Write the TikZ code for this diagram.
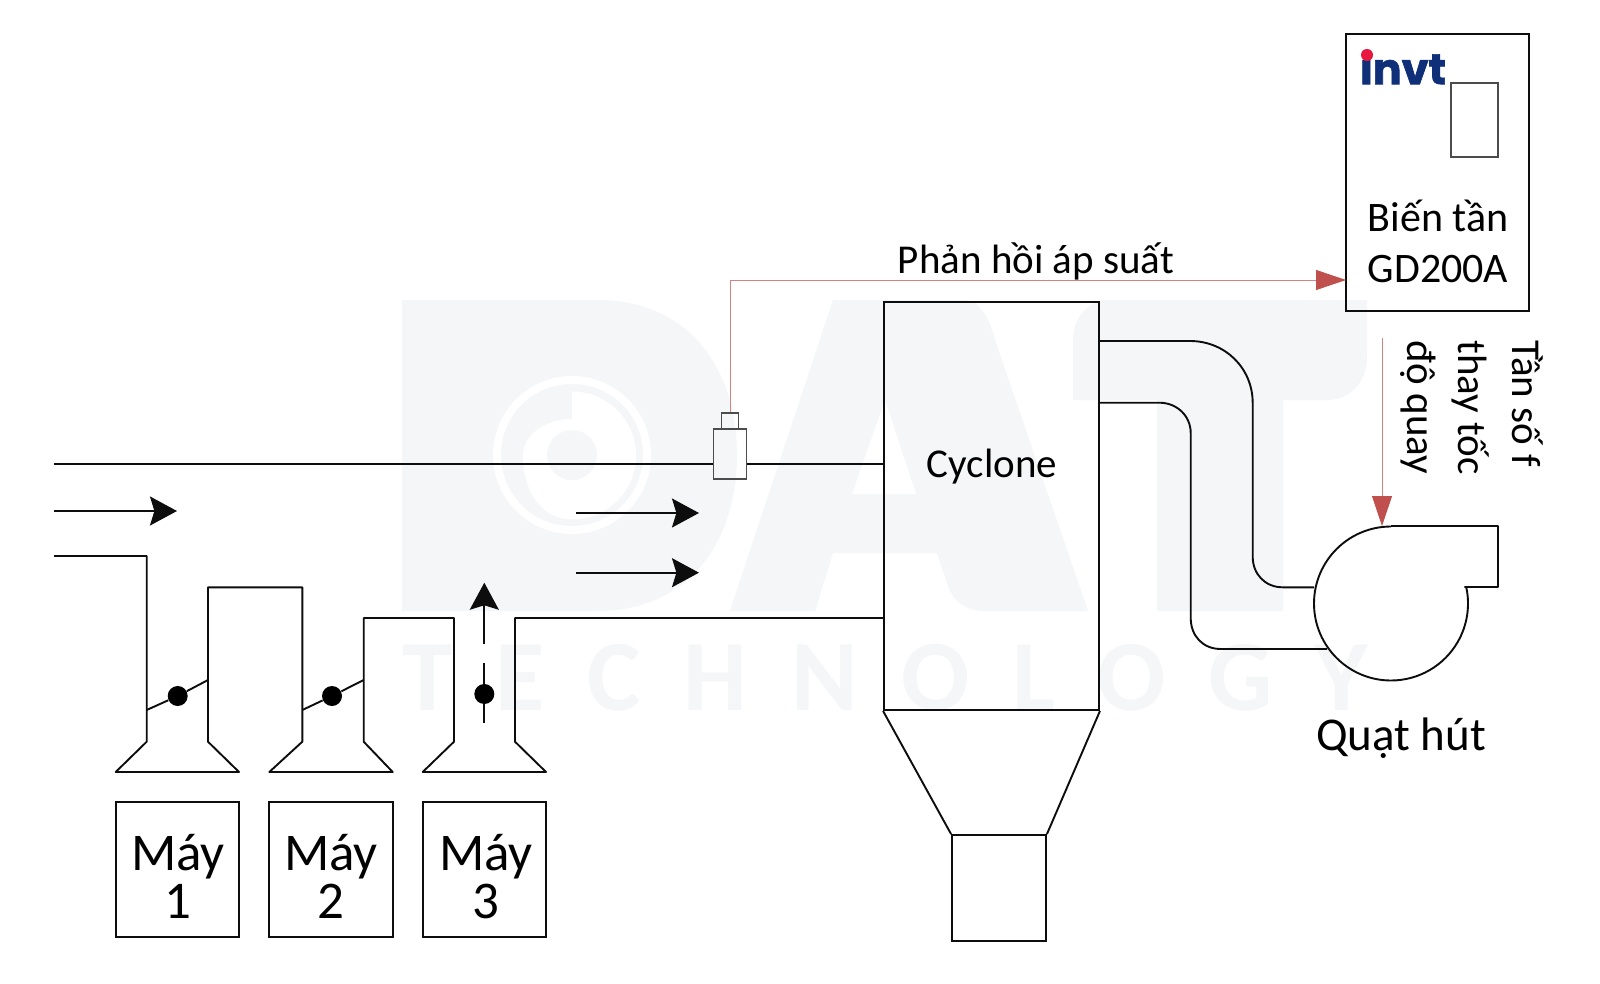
\documentclass[tikz,border=0pt]{standalone}
\usepackage{xcolor}
\usepackage{fontspec}
\usepackage{tikz}
\usetikzlibrary{arrows.meta}
\setmainfont{Carlito}
\newfontfamily\logofont[FakeBold=1.6]{Poppins}
\newfontfamily\markfont[LetterSpace=43]{Carlito}
\definecolor{markgray}{HTML}{F5F6F7}
\definecolor{feedred}{HTML}{C0504D}
\definecolor{logoblue}{HTML}{0F2F78}
\definecolor{logored}{HTML}{E8173F}
\tikzset{
    pipe/.style={draw=black!95, line width=0.95pt, line join=round},
    flow/.style={pipe, -{Stealth[length=13.5pt, width=14.5pt, inset=2.2pt]}},
    feedback/.style={draw=feedred!70, line width=0.4pt, -{Triangle[length=15pt, width=10pt, color=feedred, fill=feedred]}},
    valve/.style={circle, fill=black, minimum size=10pt, inner sep=0pt},
    framebox/.style={draw=black!95, line width=0.95pt, inner sep=0pt},
    machinebox/.style={framebox, minimum width=61.75pt, minimum height=67.5pt},
    machinetext/.style={align=center, inner sep=0pt, font=\fontsize{26.5}{24}\selectfont},
    smallbox/.style={draw=black!70, line width=0.6pt, inner sep=0pt},
    caption/.style={align=center, inner sep=0pt, font=\fontsize{20.5}{25.5}\selectfont}
}

\begin{document}
\begin{tikzpicture}[x=0.5pt, y=0.5pt, yscale=-1, node distance=76.75pt]
    \fill[white] (0,0) rectangle (1600,984);

    % Background mark
    \fill[markgray] (402,300) -- (597,300) .. controls (690,300) and (737,370) .. (737,455) .. controls (737,540) and (690,611) .. (597,611) -- (402,611) -- cycle;
    \fill[white] (572,455) circle[radius=79];
    \fill[markgray] (572,455) circle[radius=71];
    \fill[white] (572,391.5) arc[start angle=-90, end angle=90, radius=64] .. controls (540,519) and (523,490) .. (523,455) .. controls (523,435) and (545,419) .. (572,419) -- cycle;
    \fill[markgray] (572,455) circle[radius=25];
    \fill[markgray] (730,611) -- (833,300) -- (965,300) .. controls (980,300) and (990,320) .. (995,340) -- (1088,611) -- (985,611) .. controls (965,611) and (952,600) .. (947,583) -- (937,553) -- (833,553) -- (815,611) -- cycle;
    \fill[white] (852,494) -- (885,400) -- (916,494) -- cycle;
    \fill[markgray] (1073,400) -- (1073,340) .. controls (1073,318) and (1088,300) .. (1110,300) -- (1367,300) -- (1367,357) .. controls (1367,382) and (1350,400) .. (1327,400) -- (1283,400) -- (1283,611) -- (1157,611) -- (1157,400) -- cycle;
    \node[anchor=base west, inner sep=0pt, text=markgray, font=\markfont\bfseries\fontsize{50.5}{50}\selectfont] (marktext) at (402,710) {TECHNOLOGY};

    % Define nodes
    \node[machinebox] (may1) at (177.5,869.5) {};
    \node[machinebox, right of=may1] (may2) {};
    \node[machinebox, right of=may2] (may3) {};
    \node[machinetext] (maytext1) at (178,876.5) {Máy\\1};
    \node[machinetext] (maytext2) at (331,876.5) {Máy\\2};
    \node[machinetext] (maytext3) at (486,876.5) {Máy\\3};
    \node[framebox, minimum width=107.5pt, minimum height=204pt] (cyclone) at (991.5,506) {};
    \node[caption] (cyclonetext) at (992,467) {Cyclone};
    \node[framebox, minimum width=47pt, minimum height=53pt] (hopper) at (999,888) {};
    \node[framebox, minimum width=91.5pt, minimum height=138.5pt] (inverter) at (1437.5,172.5) {};
    \node[smallbox, minimum width=23.5pt, minimum height=37pt] (display) at (1474.5,120) {};
    \node[caption, font=\fontsize{21}{25.5}\selectfont] (invertertext) at (1438,241) {Biến tần\\GD200A};
    \node[inner sep=0pt, text=logoblue, font=\logofont\bfseries\fontsize{21.5}{21.5}\selectfont] (logo) at (1403,67) {invt};
    \fill[logored] (1367,55) circle[radius=6];
    \node[smallbox, minimum width=16.5pt, minimum height=25pt] (sensor) at (730,454) {};
    \node[smallbox, minimum width=8.5pt, minimum height=8pt] (sensorcap) at (730,421) {};
    \node[caption] (feedtext) at (1036,261) {Phản hồi áp suất};
    \node[caption, rotate=-90, align=left, anchor=north west] (speedtext) at (1544,340) {Tần số f\\[1.5pt]thay tốc\\độ quay};
    \node[caption, font=\fontsize{23.5}{25.5}\selectfont] (fantext) at (1401,738) {Quạt hút};
    \node[valve] (valve1) at (177.7,696) {};
    \node[valve] (valve2) at (332,696) {};
    \node[valve] (valve3) at (484.3,694) {};
    \coordinate (inverterin) at (1346,280);
    \coordinate (speedout) at (1382,338);
    \coordinate (fantop) at (1382,526);

    % Define connections
    \draw[pipe] (54,464) -- (sensor.west |- 54,464);
    \draw[pipe] (sensor.east |- 54,464) -- (cyclone.west |- 54,464);
    \draw[pipe] (54,556) -- (146.7,556) -- (146.7,741.7) -- (115.7,772) -- (239,772) -- (208,741.7) -- (208,587.3) -- (302.3,587.3) -- (302.3,741.7) -- (269.3,772) -- (392.7,772) -- (363.7,741.7) -- (363.7,618) -- (454,618) -- (454,741.7) -- (422.7,772) -- (546,772) -- (515,741.7) -- (515,618) -- (cyclone.west |- 515,618);
    \draw[pipe] (146.7,710) -- (valve1) -- (208,680);
    \draw[pipe] (302.3,710) -- (valve2) -- (363.7,680);
    \draw[pipe] (484.3,723) -- (valve3) -- (484.3,663);
    \draw[flow] (484.3,644) -- (484.3,582.7);
    \draw[flow] (54,511) -- (177,511);
    \draw[flow] (576,513) -- (699,513);
    \draw[flow] (576,572.7) -- (699,572.7);
    \draw[pipe] (cyclone.south west) -- (hopper.north west);
    \draw[pipe] (cyclone.south east) -- (hopper.north east);
    \draw[pipe] (cyclone.east |- 0,341) -- (1190,341) .. controls (1225,341) and (1252.7,368) .. (1252.7,403) -- (1252.7,556.7) .. controls (1252.7,574) and (1265,587.3) .. (1282.7,587.3) -- (1314,587.3);
    \draw[pipe] (cyclone.east |- 0,402.7) -- (1159.3,402.7) .. controls (1177,402.7) and (1190.7,416) .. (1190.7,433) -- (1190.7,618) .. controls (1190.7,636) and (1203,649) .. (1220.7,649) -- (1327,649);
    \draw[pipe] (1391,526.5) arc[start angle=-90, end angle=-372, radius=77] -- (1465,587) -- (1498,587) -- (1498,526) -- (1391,526);
    \draw[feedback] (sensorcap.north) |- (inverterin);
    \draw[feedback] (speedout) -- (fantop);
\end{tikzpicture}
\end{document}
